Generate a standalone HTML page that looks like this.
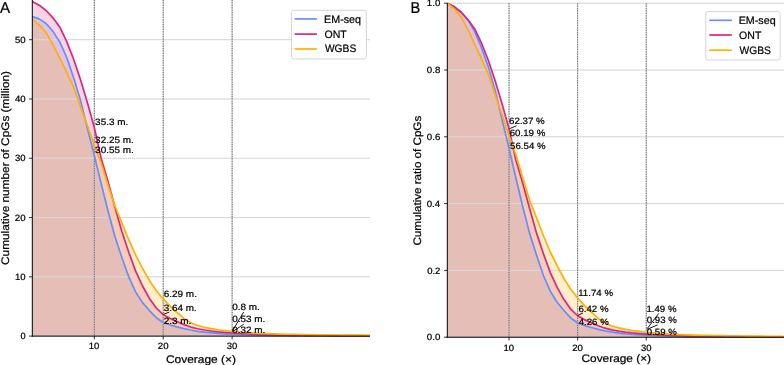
<!DOCTYPE html>
<html><head><meta charset="utf-8"><title>Cumulative CpG coverage</title>
<style>html,body{margin:0;padding:0;background:#fff;} svg{display:block;} text{font-family:"Liberation Sans",sans-serif;}</style>
</head><body>
<svg width="784" height="365" viewBox="0 0 784 365" text-rendering="geometricPrecision" style="will-change:transform">
<rect width="784" height="365" fill="#fff"/>
<polygon points="32.30,16.58 39.19,18.85 46.08,23.48 52.97,31.34 59.86,42.14 66.75,57.48 73.64,77.76 80.53,100.46 87.42,128.43 94.31,155.44 101.20,183.81 108.09,211.32 114.98,236.77 121.87,257.50 128.76,276.88 135.65,291.92 142.54,302.65 149.43,310.54 156.32,317.68 163.21,322.49 170.10,324.97 176.99,326.83 183.88,328.56 190.77,330.03 197.66,331.31 204.55,332.21 211.44,332.90 218.33,333.45 225.22,333.87 232.11,334.21 239.00,334.49 245.89,334.70 252.78,334.88 259.67,335.04 266.56,335.17 273.45,335.29 280.34,335.39 287.23,335.48 294.12,335.56 301.01,335.62 307.90,335.68 314.79,335.72 321.68,335.76 328.57,335.80 335.46,335.83 342.35,335.86 349.24,335.88 356.13,335.91 363.02,335.92 369.91,335.94 369.91,336.10 32.30,336.10" fill="#648FFF" fill-opacity="0.2"/>
<polygon points="32.30,1.46 39.19,5.15 46.08,10.50 52.97,17.86 59.86,27.23 66.75,41.62 73.64,59.19 80.53,79.79 87.42,102.67 94.31,127.39 101.20,158.57 108.09,181.81 114.98,207.23 121.87,231.58 128.76,252.20 135.65,271.14 142.54,285.99 149.43,298.40 156.32,307.99 163.21,314.62 170.10,318.51 176.99,321.58 183.88,324.63 190.77,327.06 197.66,328.74 204.55,330.00 211.44,331.00 218.33,331.81 225.22,332.46 232.11,332.99 239.00,333.42 245.89,333.77 252.78,334.06 259.67,334.31 266.56,334.53 273.45,334.71 280.34,334.87 287.23,335.01 294.12,335.13 301.01,335.23 307.90,335.32 314.79,335.40 321.68,335.46 328.57,335.52 335.46,335.58 342.35,335.63 349.24,335.67 356.13,335.70 363.02,335.74 369.91,335.77 369.91,336.10 32.30,336.10" fill="#DC267F" fill-opacity="0.2"/>
<polygon points="32.30,19.54 39.19,24.93 46.08,32.52 52.97,44.55 59.86,58.48 66.75,72.41 73.64,87.12 80.53,107.06 87.42,125.59 94.31,145.57 101.20,163.19 108.09,185.24 114.98,206.04 121.87,222.81 128.76,239.71 135.65,255.09 142.54,268.36 149.43,280.45 156.32,290.67 163.21,298.94 170.10,306.12 176.99,312.42 183.88,318.37 190.77,322.80 197.66,325.50 204.55,327.30 211.44,328.68 218.33,329.77 225.22,330.65 232.11,331.38 239.00,332.01 245.89,332.53 252.78,332.97 259.67,333.33 266.56,333.63 273.45,333.89 280.34,334.11 287.23,334.30 294.12,334.45 301.01,334.58 307.90,334.69 314.79,334.79 321.68,334.87 328.57,334.95 335.46,335.02 342.35,335.08 349.24,335.13 356.13,335.18 363.02,335.22 369.91,335.25 369.91,336.10 32.30,336.10" fill="#FFB000" fill-opacity="0.2"/>
<line x1="32.30" y1="336.10" x2="370.00" y2="336.10" stroke="#ececec" stroke-width="1.0" />
<line x1="32.30" y1="336.10" x2="370.00" y2="336.10" stroke="#bdbdbd" stroke-width="0.9" stroke-dasharray="1 1"/>
<line x1="32.30" y1="276.82" x2="370.00" y2="276.82" stroke="#ececec" stroke-width="1.0" />
<line x1="32.30" y1="276.82" x2="370.00" y2="276.82" stroke="#bdbdbd" stroke-width="0.9" stroke-dasharray="1 1"/>
<line x1="32.30" y1="217.54" x2="370.00" y2="217.54" stroke="#ececec" stroke-width="1.0" />
<line x1="32.30" y1="217.54" x2="370.00" y2="217.54" stroke="#bdbdbd" stroke-width="0.9" stroke-dasharray="1 1"/>
<line x1="32.30" y1="158.26" x2="370.00" y2="158.26" stroke="#ececec" stroke-width="1.0" />
<line x1="32.30" y1="158.26" x2="370.00" y2="158.26" stroke="#bdbdbd" stroke-width="0.9" stroke-dasharray="1 1"/>
<line x1="32.30" y1="98.98" x2="370.00" y2="98.98" stroke="#ececec" stroke-width="1.0" />
<line x1="32.30" y1="98.98" x2="370.00" y2="98.98" stroke="#bdbdbd" stroke-width="0.9" stroke-dasharray="1 1"/>
<line x1="32.30" y1="39.70" x2="370.00" y2="39.70" stroke="#ececec" stroke-width="1.0" />
<line x1="32.30" y1="39.70" x2="370.00" y2="39.70" stroke="#bdbdbd" stroke-width="0.9" stroke-dasharray="1 1"/>
<line x1="94.31" y1="0.00" x2="94.31" y2="336.10" stroke="#bdbdbd" stroke-width="0.8" />
<line x1="94.31" y1="0.00" x2="94.31" y2="336.10" stroke="#5a5a5a" stroke-width="0.9" stroke-dasharray="1.2 1.2"/>
<line x1="163.21" y1="0.00" x2="163.21" y2="336.10" stroke="#bdbdbd" stroke-width="0.8" />
<line x1="163.21" y1="0.00" x2="163.21" y2="336.10" stroke="#5a5a5a" stroke-width="0.9" stroke-dasharray="1.2 1.2"/>
<line x1="232.11" y1="0.00" x2="232.11" y2="336.10" stroke="#bdbdbd" stroke-width="0.8" />
<line x1="232.11" y1="0.00" x2="232.11" y2="336.10" stroke="#5a5a5a" stroke-width="0.9" stroke-dasharray="1.2 1.2"/>
<polyline points="32.30,16.58 39.19,18.85 46.08,23.48 52.97,31.34 59.86,42.14 66.75,57.48 73.64,77.76 80.53,100.46 87.42,128.43 94.31,155.44 101.20,183.81 108.09,211.32 114.98,236.77 121.87,257.50 128.76,276.88 135.65,291.92 142.54,302.65 149.43,310.54 156.32,317.68 163.21,322.49 170.10,324.97 176.99,326.83 183.88,328.56 190.77,330.03 197.66,331.31 204.55,332.21 211.44,332.90 218.33,333.45 225.22,333.87 232.11,334.21 239.00,334.49 245.89,334.70 252.78,334.88 259.67,335.04 266.56,335.17 273.45,335.29 280.34,335.39 287.23,335.48 294.12,335.56 301.01,335.62 307.90,335.68 314.79,335.72 321.68,335.76 328.57,335.80 335.46,335.83 342.35,335.86 349.24,335.88 356.13,335.91 363.02,335.92 369.91,335.94" fill="none" stroke="#648FFF" stroke-width="1.7" stroke-linejoin="round" />
<polyline points="32.30,1.46 39.19,5.15 46.08,10.50 52.97,17.86 59.86,27.23 66.75,41.62 73.64,59.19 80.53,79.79 87.42,102.67 94.31,127.39 101.20,158.57 108.09,181.81 114.98,207.23 121.87,231.58 128.76,252.20 135.65,271.14 142.54,285.99 149.43,298.40 156.32,307.99 163.21,314.62 170.10,318.51 176.99,321.58 183.88,324.63 190.77,327.06 197.66,328.74 204.55,330.00 211.44,331.00 218.33,331.81 225.22,332.46 232.11,332.99 239.00,333.42 245.89,333.77 252.78,334.06 259.67,334.31 266.56,334.53 273.45,334.71 280.34,334.87 287.23,335.01 294.12,335.13 301.01,335.23 307.90,335.32 314.79,335.40 321.68,335.46 328.57,335.52 335.46,335.58 342.35,335.63 349.24,335.67 356.13,335.70 363.02,335.74 369.91,335.77" fill="none" stroke="#DC267F" stroke-width="1.7" stroke-linejoin="round" />
<polyline points="32.30,19.54 39.19,24.93 46.08,32.52 52.97,44.55 59.86,58.48 66.75,72.41 73.64,87.12 80.53,107.06 87.42,125.59 94.31,145.57 101.20,163.19 108.09,185.24 114.98,206.04 121.87,222.81 128.76,239.71 135.65,255.09 142.54,268.36 149.43,280.45 156.32,290.67 163.21,298.94 170.10,306.12 176.99,312.42 183.88,318.37 190.77,322.80 197.66,325.50 204.55,327.30 211.44,328.68 218.33,329.77 225.22,330.65 232.11,331.38 239.00,332.01 245.89,332.53 252.78,332.97 259.67,333.33 266.56,333.63 273.45,333.89 280.34,334.11 287.23,334.30 294.12,334.45 301.01,334.58 307.90,334.69 314.79,334.79 321.68,334.87 328.57,334.95 335.46,335.02 342.35,335.08 349.24,335.13 356.13,335.18 363.02,335.22 369.91,335.25" fill="none" stroke="#FFB000" stroke-width="1.7" stroke-linejoin="round" />
<line x1="32.30" y1="0.00" x2="32.30" y2="336.60" stroke="#000" stroke-width="1.0" />
<line x1="31.80" y1="336.10" x2="370.00" y2="336.10" stroke="#000" stroke-width="1.0" />
<line x1="29.00" y1="336.10" x2="32.30" y2="336.10" stroke="#000" stroke-width="0.8" />
<line x1="29.00" y1="276.82" x2="32.30" y2="276.82" stroke="#000" stroke-width="0.8" />
<line x1="29.00" y1="217.54" x2="32.30" y2="217.54" stroke="#000" stroke-width="0.8" />
<line x1="29.00" y1="158.26" x2="32.30" y2="158.26" stroke="#000" stroke-width="0.8" />
<line x1="29.00" y1="98.98" x2="32.30" y2="98.98" stroke="#000" stroke-width="0.8" />
<line x1="29.00" y1="39.70" x2="32.30" y2="39.70" stroke="#000" stroke-width="0.8" />
<line x1="94.31" y1="336.10" x2="94.31" y2="339.40" stroke="#000" stroke-width="0.8" />
<line x1="163.21" y1="336.10" x2="163.21" y2="339.40" stroke="#000" stroke-width="0.8" />
<line x1="232.11" y1="336.10" x2="232.11" y2="339.40" stroke="#000" stroke-width="0.8" />
<polygon points="447.30,3.20 454.16,6.54 461.02,11.88 467.88,19.90 474.74,31.59 481.60,47.96 488.46,67.31 495.32,90.88 502.18,120.12 509.04,148.36 515.90,178.01 522.76,206.76 529.62,233.37 536.48,255.04 543.34,275.30 550.20,291.02 557.06,302.24 563.92,310.48 570.78,317.94 577.64,322.97 584.50,325.57 591.36,327.51 598.22,329.31 605.08,330.85 611.94,332.19 618.80,333.13 625.66,333.86 632.52,334.43 639.38,334.87 646.24,335.23 653.10,335.51 659.96,335.74 666.82,335.93 673.68,336.09 680.54,336.23 687.40,336.36 694.26,336.46 701.12,336.55 707.98,336.63 714.84,336.70 721.70,336.76 728.56,336.81 735.42,336.85 742.28,336.89 749.14,336.92 756.00,336.95 762.86,336.97 769.72,337.00 776.58,337.02 783.44,337.03 783.44,337.20 447.30,337.20" fill="#648FFF" fill-opacity="0.2"/>
<polygon points="447.30,3.20 454.16,6.87 461.02,12.22 467.88,19.57 474.74,28.92 481.60,43.28 488.46,60.81 495.32,81.38 502.18,104.22 509.04,128.88 515.90,160.00 522.76,183.21 529.62,208.57 536.48,232.88 543.34,253.46 550.20,272.36 557.06,287.18 563.92,299.57 570.78,309.14 577.64,315.76 584.50,319.64 591.36,322.70 598.22,325.76 605.08,328.18 611.94,329.85 618.80,331.11 625.66,332.11 632.52,332.92 639.38,333.57 646.24,334.09 653.10,334.52 659.96,334.87 666.82,335.17 673.68,335.42 680.54,335.63 687.40,335.82 694.26,335.98 701.12,336.11 707.98,336.23 714.84,336.33 721.70,336.42 728.56,336.50 735.42,336.57 742.28,336.63 749.14,336.68 756.00,336.73 762.86,336.77 769.72,336.80 776.58,336.84 783.44,336.87 783.44,337.20 447.30,337.20" fill="#DC267F" fill-opacity="0.2"/>
<polygon points="447.30,3.20 454.16,8.88 461.02,16.89 467.88,29.59 474.74,44.28 481.60,58.98 488.46,74.50 495.32,95.54 502.18,115.09 509.04,136.17 515.90,154.76 522.76,178.03 529.62,199.98 536.48,217.67 543.34,235.50 550.20,251.72 557.06,265.73 563.92,278.48 570.78,289.27 577.64,297.99 584.50,305.57 591.36,312.22 598.22,318.49 605.08,323.17 611.94,326.01 618.80,327.92 625.66,329.37 632.52,330.52 639.38,331.45 646.24,332.22 653.10,332.88 659.96,333.43 666.82,333.89 673.68,334.28 680.54,334.59 687.40,334.87 694.26,335.10 701.12,335.30 707.98,335.46 714.84,335.60 721.70,335.71 728.56,335.81 735.42,335.91 742.28,335.99 749.14,336.06 756.00,336.12 762.86,336.18 769.72,336.23 776.58,336.27 783.44,336.30 783.44,337.20 447.30,337.20" fill="#FFB000" fill-opacity="0.2"/>
<line x1="447.30" y1="337.20" x2="784.00" y2="337.20" stroke="#ececec" stroke-width="1.0" />
<line x1="447.30" y1="337.20" x2="784.00" y2="337.20" stroke="#bdbdbd" stroke-width="0.9" stroke-dasharray="1 1"/>
<line x1="447.30" y1="270.40" x2="784.00" y2="270.40" stroke="#ececec" stroke-width="1.0" />
<line x1="447.30" y1="270.40" x2="784.00" y2="270.40" stroke="#bdbdbd" stroke-width="0.9" stroke-dasharray="1 1"/>
<line x1="447.30" y1="203.60" x2="784.00" y2="203.60" stroke="#ececec" stroke-width="1.0" />
<line x1="447.30" y1="203.60" x2="784.00" y2="203.60" stroke="#bdbdbd" stroke-width="0.9" stroke-dasharray="1 1"/>
<line x1="447.30" y1="136.80" x2="784.00" y2="136.80" stroke="#ececec" stroke-width="1.0" />
<line x1="447.30" y1="136.80" x2="784.00" y2="136.80" stroke="#bdbdbd" stroke-width="0.9" stroke-dasharray="1 1"/>
<line x1="447.30" y1="70.00" x2="784.00" y2="70.00" stroke="#ececec" stroke-width="1.0" />
<line x1="447.30" y1="70.00" x2="784.00" y2="70.00" stroke="#bdbdbd" stroke-width="0.9" stroke-dasharray="1 1"/>
<line x1="447.30" y1="3.20" x2="784.00" y2="3.20" stroke="#ececec" stroke-width="1.0" />
<line x1="447.30" y1="3.20" x2="784.00" y2="3.20" stroke="#bdbdbd" stroke-width="0.9" stroke-dasharray="1 1"/>
<line x1="509.04" y1="3.20" x2="509.04" y2="337.20" stroke="#bdbdbd" stroke-width="0.8" />
<line x1="509.04" y1="3.20" x2="509.04" y2="337.20" stroke="#5a5a5a" stroke-width="0.9" stroke-dasharray="1.2 1.2"/>
<line x1="577.64" y1="3.20" x2="577.64" y2="337.20" stroke="#bdbdbd" stroke-width="0.8" />
<line x1="577.64" y1="3.20" x2="577.64" y2="337.20" stroke="#5a5a5a" stroke-width="0.9" stroke-dasharray="1.2 1.2"/>
<line x1="646.24" y1="3.20" x2="646.24" y2="337.20" stroke="#bdbdbd" stroke-width="0.8" />
<line x1="646.24" y1="3.20" x2="646.24" y2="337.20" stroke="#5a5a5a" stroke-width="0.9" stroke-dasharray="1.2 1.2"/>
<polyline points="447.30,3.20 454.16,6.54 461.02,11.88 467.88,19.90 474.74,31.59 481.60,47.96 488.46,67.31 495.32,90.88 502.18,120.12 509.04,148.36 515.90,178.01 522.76,206.76 529.62,233.37 536.48,255.04 543.34,275.30 550.20,291.02 557.06,302.24 563.92,310.48 570.78,317.94 577.64,322.97 584.50,325.57 591.36,327.51 598.22,329.31 605.08,330.85 611.94,332.19 618.80,333.13 625.66,333.86 632.52,334.43 639.38,334.87 646.24,335.23 653.10,335.51 659.96,335.74 666.82,335.93 673.68,336.09 680.54,336.23 687.40,336.36 694.26,336.46 701.12,336.55 707.98,336.63 714.84,336.70 721.70,336.76 728.56,336.81 735.42,336.85 742.28,336.89 749.14,336.92 756.00,336.95 762.86,336.97 769.72,337.00 776.58,337.02 783.44,337.03" fill="none" stroke="#648FFF" stroke-width="1.7" stroke-linejoin="round" />
<polyline points="447.30,3.20 454.16,6.87 461.02,12.22 467.88,19.57 474.74,28.92 481.60,43.28 488.46,60.81 495.32,81.38 502.18,104.22 509.04,128.88 515.90,160.00 522.76,183.21 529.62,208.57 536.48,232.88 543.34,253.46 550.20,272.36 557.06,287.18 563.92,299.57 570.78,309.14 577.64,315.76 584.50,319.64 591.36,322.70 598.22,325.76 605.08,328.18 611.94,329.85 618.80,331.11 625.66,332.11 632.52,332.92 639.38,333.57 646.24,334.09 653.10,334.52 659.96,334.87 666.82,335.17 673.68,335.42 680.54,335.63 687.40,335.82 694.26,335.98 701.12,336.11 707.98,336.23 714.84,336.33 721.70,336.42 728.56,336.50 735.42,336.57 742.28,336.63 749.14,336.68 756.00,336.73 762.86,336.77 769.72,336.80 776.58,336.84 783.44,336.87" fill="none" stroke="#DC267F" stroke-width="1.7" stroke-linejoin="round" />
<polyline points="447.30,3.20 454.16,8.88 461.02,16.89 467.88,29.59 474.74,44.28 481.60,58.98 488.46,74.50 495.32,95.54 502.18,115.09 509.04,136.17 515.90,154.76 522.76,178.03 529.62,199.98 536.48,217.67 543.34,235.50 550.20,251.72 557.06,265.73 563.92,278.48 570.78,289.27 577.64,297.99 584.50,305.57 591.36,312.22 598.22,318.49 605.08,323.17 611.94,326.01 618.80,327.92 625.66,329.37 632.52,330.52 639.38,331.45 646.24,332.22 653.10,332.88 659.96,333.43 666.82,333.89 673.68,334.28 680.54,334.59 687.40,334.87 694.26,335.10 701.12,335.30 707.98,335.46 714.84,335.60 721.70,335.71 728.56,335.81 735.42,335.91 742.28,335.99 749.14,336.06 756.00,336.12 762.86,336.18 769.72,336.23 776.58,336.27 783.44,336.30" fill="none" stroke="#FFB000" stroke-width="1.7" stroke-linejoin="round" />
<line x1="447.30" y1="3.20" x2="447.30" y2="337.70" stroke="#000" stroke-width="1.0" />
<line x1="446.80" y1="337.20" x2="784.00" y2="337.20" stroke="#000" stroke-width="1.0" />
<line x1="444.00" y1="337.20" x2="447.30" y2="337.20" stroke="#000" stroke-width="0.8" />
<line x1="444.00" y1="270.40" x2="447.30" y2="270.40" stroke="#000" stroke-width="0.8" />
<line x1="444.00" y1="203.60" x2="447.30" y2="203.60" stroke="#000" stroke-width="0.8" />
<line x1="444.00" y1="136.80" x2="447.30" y2="136.80" stroke="#000" stroke-width="0.8" />
<line x1="444.00" y1="70.00" x2="447.30" y2="70.00" stroke="#000" stroke-width="0.8" />
<line x1="444.00" y1="3.20" x2="447.30" y2="3.20" stroke="#000" stroke-width="0.8" />
<line x1="509.04" y1="337.20" x2="509.04" y2="340.50" stroke="#000" stroke-width="0.8" />
<line x1="577.64" y1="337.20" x2="577.64" y2="340.50" stroke="#000" stroke-width="0.8" />
<line x1="646.24" y1="337.20" x2="646.24" y2="340.50" stroke="#000" stroke-width="0.8" />
<text font-size="9.135" transform="translate(20.46,339.27) scale(1.0039,1)" fill="#000" stroke="#000" stroke-width="0.22">0</text>
<text font-size="9.135" transform="translate(14.93,279.99) scale(1.0471,1)" fill="#000" stroke="#000" stroke-width="0.22">10</text>
<text font-size="9.135" transform="translate(14.86,220.71) scale(1.0547,1)" fill="#000" stroke="#000" stroke-width="0.22">20</text>
<text font-size="9.135" transform="translate(15.01,161.43) scale(1.0395,1)" fill="#000" stroke="#000" stroke-width="0.22">30</text>
<text font-size="9.135" transform="translate(14.91,102.15) scale(1.0493,1)" fill="#000" stroke="#000" stroke-width="0.22">40</text>
<text font-size="9.135" transform="translate(15.00,42.87) scale(1.0406,1)" fill="#000" stroke="#000" stroke-width="0.22">50</text>
<text font-size="9.135" transform="translate(88.81,349.46) scale(1.0471,1)" fill="#000" stroke="#000" stroke-width="0.22">10</text>
<text font-size="9.135" transform="translate(157.80,349.46) scale(1.0547,1)" fill="#000" stroke="#000" stroke-width="0.22">20</text>
<text font-size="9.135" transform="translate(226.83,349.46) scale(1.0395,1)" fill="#000" stroke="#000" stroke-width="0.22">30</text>
<text font-size="9.135" transform="translate(426.84,340.37) scale(1.0584,1)" fill="#000" stroke="#000" stroke-width="0.22">0.0</text>
<text font-size="9.135" transform="translate(427.14,273.57) scale(1.0428,1)" fill="#000" stroke="#000" stroke-width="0.22">0.2</text>
<text font-size="9.135" transform="translate(426.75,206.77) scale(1.0579,1)" fill="#000" stroke="#000" stroke-width="0.22">0.4</text>
<text font-size="9.135" transform="translate(426.81,139.97) scale(1.0648,1)" fill="#000" stroke="#000" stroke-width="0.22">0.6</text>
<text font-size="9.135" transform="translate(426.85,73.17) scale(1.0605,1)" fill="#000" stroke="#000" stroke-width="0.22">0.8</text>
<text font-size="9.135" transform="translate(426.86,6.37) scale(1.0563,1)" fill="#000" stroke="#000" stroke-width="0.22">1.0</text>
<text font-size="9.135" transform="translate(503.54,350.86) scale(1.0471,1)" fill="#000" stroke="#000" stroke-width="0.22">10</text>
<text font-size="9.135" transform="translate(572.23,350.86) scale(1.0547,1)" fill="#000" stroke="#000" stroke-width="0.22">20</text>
<text font-size="9.135" transform="translate(640.96,350.86) scale(1.0395,1)" fill="#000" stroke="#000" stroke-width="0.22">30</text>
<text font-size="10.973" transform="translate(165.89,362.70) scale(1.0905,1)" fill="#000" stroke="#000" stroke-width="0.22">Coverage (×)</text>
<text font-size="10.899" transform="translate(581.50,361.70) scale(1.0905,1)" fill="#000" stroke="#000" stroke-width="0.22">Coverage (×)</text>
<text font-size="10.973" transform="translate(8.80,264.97) rotate(-90) scale(1.0789,1)" fill="#000" stroke="#000" stroke-width="0.22">Cumulative number of CpGs (million)</text>
<text font-size="10.878" transform="translate(421.00,245.61) rotate(-90) scale(1.0701,1)" fill="#000" stroke="#000" stroke-width="0.22">Cumulative ratio of CpGs</text>
<text font-size="15.750" transform="translate(-0.03,12.90) scale(0.9594,1)" fill="#000" stroke="#000" stroke-width="0.22">A</text>
<text font-size="15.750" transform="translate(410.60,13.00) scale(0.9253,1)" fill="#000" stroke="#000" stroke-width="0.22">B</text>
<text font-size="9.135" transform="translate(95.12,124.90) scale(1.0851,1)" fill="#000" stroke="#000" stroke-width="0.22">35.3 m.</text>
<text font-size="9.135" transform="translate(95.12,142.80) scale(1.0858,1)" fill="#000" stroke="#000" stroke-width="0.22">32.25 m.</text>
<text font-size="9.135" transform="translate(95.12,153.30) scale(1.0858,1)" fill="#000" stroke="#000" stroke-width="0.22">30.55 m.</text>
<text font-size="9.135" transform="translate(163.69,297.10) scale(1.0913,1)" fill="#000" stroke="#000" stroke-width="0.22">6.29 m.</text>
<text font-size="9.135" transform="translate(163.82,310.90) scale(1.0851,1)" fill="#000" stroke="#000" stroke-width="0.22">3.64 m.</text>
<text font-size="9.135" transform="translate(163.70,323.80) scale(1.0903,1)" fill="#000" stroke="#000" stroke-width="0.22">2.3 m.</text>
<text font-size="9.135" transform="translate(232.21,310.40) scale(1.0883,1)" fill="#000" stroke="#000" stroke-width="0.22">0.8 m.</text>
<text font-size="9.135" transform="translate(232.21,322.30) scale(1.0885,1)" fill="#000" stroke="#000" stroke-width="0.22">0.53 m.</text>
<text font-size="9.135" transform="translate(232.21,333.40) scale(1.0885,1)" fill="#000" stroke="#000" stroke-width="0.22">0.32 m.</text>
<text font-size="9.135" transform="translate(509.11,124.20) scale(1.0648,1)" fill="#000" stroke="#000" stroke-width="0.22">62.37 %</text>
<text font-size="9.135" transform="translate(509.71,135.50) scale(1.0648,1)" fill="#000" stroke="#000" stroke-width="0.22">60.19 %</text>
<text font-size="9.135" transform="translate(510.11,149.20) scale(1.0597,1)" fill="#000" stroke="#000" stroke-width="0.22">56.54 %</text>
<text font-size="9.135" transform="translate(578.16,295.80) scale(1.0617,1)" fill="#000" stroke="#000" stroke-width="0.22">11.74 %</text>
<text font-size="9.135" transform="translate(578.41,311.80) scale(1.0602,1)" fill="#000" stroke="#000" stroke-width="0.22">6.42 %</text>
<text font-size="9.135" transform="translate(578.68,324.90) scale(1.0571,1)" fill="#000" stroke="#000" stroke-width="0.22">4.26 %</text>
<text font-size="9.135" transform="translate(646.46,311.60) scale(1.0565,1)" fill="#000" stroke="#000" stroke-width="0.22">1.49 %</text>
<text font-size="9.135" transform="translate(646.82,323.10) scale(1.0574,1)" fill="#000" stroke="#000" stroke-width="0.22">0.93 %</text>
<text font-size="9.135" transform="translate(646.82,335.40) scale(1.0574,1)" fill="#000" stroke="#000" stroke-width="0.22">0.59 %</text>
<line x1="163.50" y1="314.30" x2="169.30" y2="312.10" stroke="#000" stroke-width="0.9" />
<line x1="232.40" y1="331.00" x2="243.70" y2="312.00" stroke="#000" stroke-width="0.9" />
<line x1="232.60" y1="331.60" x2="243.70" y2="324.30" stroke="#000" stroke-width="0.9" />
<line x1="509.60" y1="128.60" x2="516.60" y2="125.80" stroke="#000" stroke-width="0.9" />
<line x1="577.60" y1="315.50" x2="583.00" y2="313.00" stroke="#000" stroke-width="0.9" />
<line x1="647.00" y1="328.80" x2="658.70" y2="313.50" stroke="#000" stroke-width="0.9" />
<line x1="647.40" y1="329.20" x2="657.60" y2="324.90" stroke="#000" stroke-width="0.9" />
<rect x="291.5" y="10.3" width="74.80000000000001" height="48.599999999999994" rx="2.2" fill="#fff" fill-opacity="1" stroke="#d0d0d0" stroke-width="0.9"/>
<line x1="294.70" y1="18.90" x2="316.90" y2="18.90" stroke="#648FFF" stroke-width="1.7" />
<text font-size="10.815" transform="translate(324.12,22.80) scale(0.9923,1)" fill="#000" stroke="#000" stroke-width="0.22">EM-seq</text>
<line x1="294.70" y1="34.10" x2="316.90" y2="34.10" stroke="#DC267F" stroke-width="1.7" />
<text font-size="10.815" transform="translate(324.50,37.90) scale(0.9768,1)" fill="#000" stroke="#000" stroke-width="0.22">ONT</text>
<line x1="294.70" y1="49.00" x2="316.90" y2="49.00" stroke="#FFB000" stroke-width="1.7" />
<text font-size="10.815" transform="translate(324.95,52.30) scale(0.9493,1)" fill="#000" stroke="#000" stroke-width="0.22">WGBS</text>
<rect x="705.8" y="11.6" width="74.40000000000009" height="48.4" rx="2.2" fill="#fff" fill-opacity="1" stroke="#d0d0d0" stroke-width="0.9"/>
<line x1="709.30" y1="20.30" x2="731.80" y2="20.30" stroke="#648FFF" stroke-width="1.7" />
<text font-size="10.815" transform="translate(738.72,24.10) scale(0.9923,1)" fill="#000" stroke="#000" stroke-width="0.22">EM-seq</text>
<line x1="709.30" y1="35.00" x2="731.80" y2="35.00" stroke="#DC267F" stroke-width="1.7" />
<text font-size="10.815" transform="translate(739.10,39.20) scale(0.9768,1)" fill="#000" stroke="#000" stroke-width="0.22">ONT</text>
<line x1="709.30" y1="50.20" x2="731.80" y2="50.20" stroke="#FFB000" stroke-width="1.7" />
<text font-size="10.815" transform="translate(739.55,53.60) scale(0.9493,1)" fill="#000" stroke="#000" stroke-width="0.22">WGBS</text>
</svg>
</body></html>
